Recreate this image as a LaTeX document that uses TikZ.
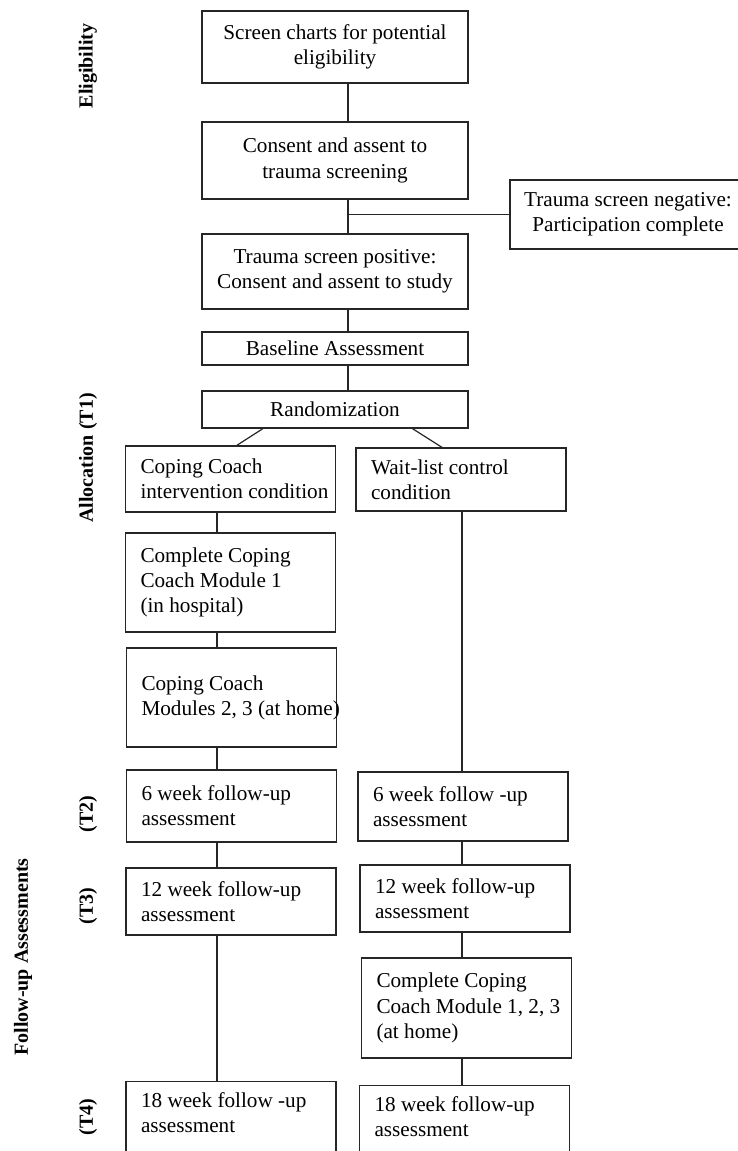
\documentclass[tikz,border=0pt]{standalone}
\usepackage{fontspec}
\setmainfont{Liberation Serif}
\usepackage{tikz}
\usetikzlibrary{calc}

\tikzset{
	topbox/.style={draw=black!85, line width=0.65pt, minimum width=133pt, align=center, inner sep=2pt},
	sidebox/.style={draw=black!85, line width=0.65pt, text width=99.5pt, align=flush left, inner xsep=2.75pt, inner ysep=2pt,
		execute at begin node={\leftskip=4.75pt\relax}},
	phase/.style={rotate=90, font=\bfseries},
	link/.style={line width=0.6pt, draw=black!85}
}

\begin{document}
\begin{tikzpicture}[x=0.5pt, y=-0.5pt, font=\fontsize{10.6}{12.6}\selectfont]
			\useasboundingbox (0,0) rectangle (738,1151);
			\node[phase] (elig) at (88,66) {Eligibility};
			\node[phase] (alloc) at (88,458) {Allocation (T1)};
			\node[phase] (ttwo) at (88,814) {(T2)};
			\node[phase] (tthree) at (88,906) {(T3)};
			\node[phase] (tfour) at (88,1117) {(T4)};
			\node[phase] (follow) at (23,957) {Follow-up Assessments};
			\node[topbox, minimum height=36pt] (screen) at (335,47) {Screen charts for potential\\eligibility};
			\node[topbox, minimum height=38.5pt] (consent) at (335,160.5) {Consent and assent to\\trauma screening};
			\node[topbox, minimum height=34.5pt, minimum width=118pt] (neg) at (628,214.5) {Trauma screen negative:\\Participation complete};
			\node[topbox, minimum height=37.5pt] (positive) at (335,271.5) {Trauma screen positive:\\Consent and assent to study};
			\node[topbox, minimum height=16.5pt] (baseline) at (335,348.5) {Baseline Assessment};
			\node[topbox, minimum height=18.5pt] (random) at (335,409.5) {Randomization};
			\node[sidebox, minimum height=33pt] (coping) at (230.5,479) {Coping Coach\\intervention condition};
			\node[sidebox, minimum height=31.5pt] (wait) at (461,479.5) {Wait-list control\\condition};
			\node[sidebox, minimum height=49.5pt] (modone) at (230.5,582.5) {Complete Coping\\Coach Module 1\\(in hospital)};
			\node[sidebox, minimum height=49.5pt] (modtwo) at (231.5,697.5) {Coping Coach\\\mbox{Modules 2, 3 (at home)}};
			\node[sidebox, minimum height=36pt] (sixl) at (231.5,806) {6 week follow-up\\assessment};
			\node[sidebox, minimum height=34.5pt] (sixr) at (463,806.5) {6 week follow -up\\assessment};
			\node[sidebox, minimum height=33.5pt] (twelvel) at (231,901.5) {12 week follow-up\\assessment};
			\node[sidebox, minimum height=33.5pt] (twelver) at (465,898.5) {12 week follow-up\\assessment};
			\node[sidebox, minimum height=50pt] (modall) at (466.5,1008) {Complete Coping\\Coach Module 1, 2, 3\\(at home)};
			\node[sidebox, anchor=north, inner ysep=5.5pt, text depth=30pt] (eighteenl) at (231,1081) {18 week follow -up\\assessment};
			\node[sidebox, anchor=north, inner ysep=5.5pt, text depth=30pt] (eighteenr) at (464.5,1085) {18 week follow-up\\assessment};
			\coordinate (trunk) at (348,0);
			\coordinate (lcol) at (217,0);
			\coordinate (rcol) at (462,0);
			\draw[link] (screen.south -| trunk) -- (consent.north -| trunk);
			\draw[link] (consent.south -| trunk) -- (positive.north -| trunk);
			\draw[link] (trunk |- neg.west) -- (neg.west);
			\draw[link] (positive.south -| trunk) -- (baseline.north -| trunk);
			\draw[link] (baseline.south -| trunk) -- (random.north -| trunk);
			\draw[link] ($(random.south west)!0.23!(random.south east)$) -- ($(coping.north west)!0.53!(coping.north east)$);
			\draw[link] ($(random.south west)!0.79!(random.south east)$) -- ($(wait.north west)!0.41!(wait.north east)$);
			\draw[link] (coping.south -| lcol) -- (modone.north -| lcol);
			\draw[link] (modone.south -| lcol) -- (modtwo.north -| lcol);
			\draw[link] (modtwo.south -| lcol) -- (sixl.north -| lcol);
			\draw[link] (sixl.south -| lcol) -- (twelvel.north -| lcol);
			\draw[link] (twelvel.south -| lcol) -- (eighteenl.north -| lcol);
			\draw[link] (wait.south -| rcol) -- (sixr.north -| rcol);
			\draw[link] (sixr.south -| rcol) -- (twelver.north -| rcol);
			\draw[link] (twelver.south -| rcol) -- (modall.north -| rcol);
			\draw[link] (modall.south -| rcol) -- (eighteenr.north -| rcol);
		\end{tikzpicture}
\end{document}
